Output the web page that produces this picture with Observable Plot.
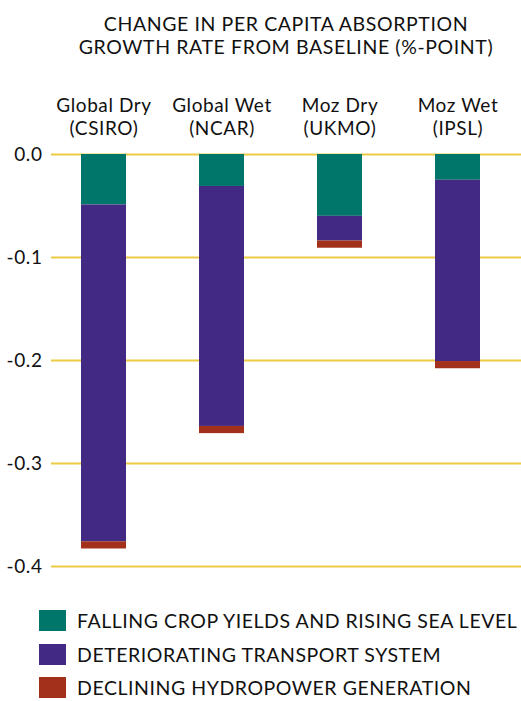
<!DOCTYPE html>
<html>
<head>
<meta charset="utf-8">
<script src="https://cdn.jsdelivr.net/npm/d3@7"></script>
<script src="https://cdn.jsdelivr.net/npm/@observablehq/plot@0.6"></script>
<style>
  html, body { margin: 0; padding: 0; background: #fff; }
  body { width: 521px; height: 701px; position: relative; overflow: hidden; font-family: Lato, "Open Sans", sans-serif; color: #111; }
  #title { position: absolute; left: 51px; width: 470px; top: 12px; text-align: center; font-size: 19.5px; letter-spacing: 0.6px; line-height: 23px; }
  #chart { position: absolute; left: 0; top: 70px; }
  #legend { position: absolute; left: 39px; top: 610px; }
  .row { display: flex; align-items: center; height: 21px; margin-bottom: 12.5px; }
  .sw { width: 27px; height: 21px; margin-right: 11px; flex: none; }
  .lab { font-size: 19.5px; line-height: 19px; letter-spacing: 0.55px; white-space: nowrap; }
</style>
</head>
<body>
<div id="title">CHANGE IN PER CAPITA ABSORPTION<br>GROWTH RATE FROM BASELINE (%-POINT)</div>
<div id="chart"></div>
<div id="legend"></div>
<script>
const categories = ["Global Dry (CSIRO)", "Global Wet (NCAR)", "Moz Dry (UKMO)", "Moz Wet (IPSL)"];
const categoryLines = ["Global Dry\n(CSIRO)", "Global Wet\n(NCAR)", "Moz Dry\n(UKMO)", "Moz Wet\n(IPSL)"];
const seriesNames = ["FALLING CROP YIELDS AND RISING SEA LEVEL", "DETERIORATING TRANSPORT SYSTEM", "DECLINING HYDROPOWER GENERATION"];
const seriesColors = ["#00756A", "#422983", "#A3301A"];
const cropSea = [-0.049, -0.031, -0.060, -0.025];
const transport = [-0.327, -0.233, -0.024, -0.176];
const hydro = [-0.007, -0.007, -0.007, -0.007];
const yTicks = [0, -0.1, -0.2, -0.3, -0.4];

const seriesValues = [cropSea, transport, hydro];
const rows = [];
categories.forEach((c, i) => {
  seriesNames.forEach((s, k) => rows.push({category: c, series: s, value: seriesValues[k][i]}));
});

const chart = Plot.plot({
  width: 521,
  height: 530,
  marginLeft: 51,
  marginRight: 0,
  marginTop: 84,
  marginBottom: 34,
  style: {fontFamily: "Lato, sans-serif", fontSize: "19px", color: "#111", background: "transparent", letterSpacing: "0.6px"},
  x: {domain: categories, range: [80, 480], paddingInner: 0.619, paddingOuter: 0, axis: null},
  y: {domain: [-0.4, 0], axis: null},
  color: {domain: seriesNames, range: seriesColors},
  marks: [
    Plot.ruleY(yTicks, {stroke: "#EDCB45", strokeWidth: 1.8}),
    Plot.barY(rows, {x: "category", y: "value", fill: "series", order: null}),
    Plot.axisY({ticks: yTicks, tickSize: 0, tickPadding: 9, tickFormat: d => d.toFixed(1), fontSize: 19, label: null}),
    Plot.text(categories, {x: d => d, text: (d, i) => categoryLines[i], frameAnchor: "top", dy: -38.5, lineAnchor: "middle", lineHeight: 1.22, fontSize: 19, fill: "#111"})
  ]
});
document.getElementById("chart").appendChild(chart);

const legend = document.getElementById("legend");
seriesNames.forEach((s, k) => {
  const row = document.createElement("div");
  row.className = "row";
  const sw = document.createElement("div");
  sw.className = "sw";
  sw.style.background = seriesColors[k];
  const lab = document.createElement("div");
  lab.className = "lab";
  lab.textContent = s;
  row.appendChild(sw);
  row.appendChild(lab);
  legend.appendChild(row);
});
</script>
</body>
</html>
